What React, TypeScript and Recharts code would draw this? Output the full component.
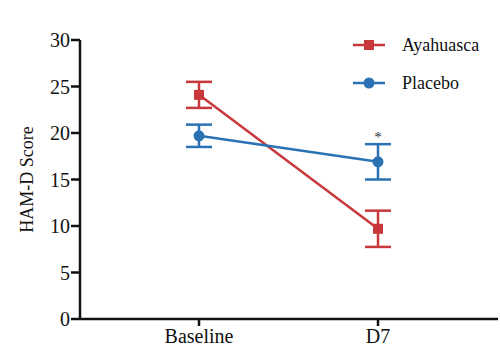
import { ErrorBar, LabelList, Legend, Line, LineChart, XAxis, YAxis } from "recharts";

const timepoints = ["Baseline", "D7"];
const ayahuascaMean = [24.1, 9.7];
const ayahuascaErr = [1.4, 1.95];
const placeboMean = [19.7, 16.9];
const placeboErr = [1.2, 1.9];
const placeboSig = ["", "*"];
const yTicks = [0, 5, 10, 15, 20, 25, 30];

const RED = "#c8383b";
const BLUE = "#2a72b3";
const FONT = "Liberation Serif";

const data = timepoints.map((t, i) => ({
  t,
  aya: ayahuascaMean[i],
  ayaErr: ayahuascaErr[i],
  pla: placeboMean[i],
  plaErr: placeboErr[i],
  sig: placeboSig[i],
}));

function SquareDot(props: any) {
  const { cx, cy } = props;
  if (cx == null || cy == null) return null;
  return <rect x={cx - 5} y={cy - 5} width={10} height={10} fill={RED} />;
}

function CircleDot(props: any) {
  const { cx, cy } = props;
  if (cx == null || cy == null) return null;
  return <circle cx={cx} cy={cy} r={5.5} fill={BLUE} />;
}

function LegendBox() {
  const rows = [
    { name: "Ayahuasca", color: RED, square: true },
    { name: "Placebo", color: BLUE, square: false },
  ];
  return (
    <svg width={148} height={60} style={{ overflow: "visible" }}>
      {rows.map((r, i) => {
        const y = 15 + i * 38;
        return (
          <g key={r.name}>
            <line x1={3} x2={35} y1={y} y2={y} stroke={r.color} strokeWidth={2.5} />
            {r.square ? (
              <rect x={14} y={y - 5} width={10} height={10} fill={r.color} />
            ) : (
              <circle cx={19} cy={y} r={5.5} fill={r.color} />
            )}
            <text x={52} y={y} dy="0.35em" fontFamily={FONT} fontSize={18} fill="#111">
              {r.name}
            </text>
          </g>
        );
      })}
    </svg>
  );
}

export default function App() {
  const tick = { fill: "#111", fontSize: 20, fontFamily: FONT };
  return (
    <div style={{ position: "absolute", left: 0, top: 0, background: "#fff", fontFamily: FONT }}>
      <LineChart
        width={500}
        height={360}
        data={data}
        margin={{ top: 40, right: 2, bottom: 11, left: 0 }}
        style={{ fontFamily: FONT }}
      >
        <XAxis
          dataKey="t"
          height={30}
          padding={{ left: 119, right: 120 }}
          tick={tick}
          tickSize={7}
          tickMargin={3}
          axisLine={{ stroke: "#111", strokeWidth: 2.5 }}
          tickLine={{ stroke: "#111", strokeWidth: 2.5 }}
        />
        <YAxis
          width={80}
          domain={[0, 30]}
          ticks={yTicks}
          interval={0}
          tick={tick}
          tickSize={9}
          tickMargin={1}
          axisLine={{ stroke: "#111", strokeWidth: 2.5 }}
          tickLine={{ stroke: "#111", strokeWidth: 2.5 }}
          label={{
            value: "HAM-D Score",
            angle: -90,
            position: "insideLeft",
            offset: 27,
            fontFamily: FONT,
            fontSize: 18,
            fill: "#111",
            style: { textAnchor: "middle" },
          }}
        />
        <Legend
          verticalAlign="middle"
          align="center"
          content={() => <LegendBox />}
          wrapperStyle={{ position: "absolute", left: 350, top: 30, width: 148, height: 60 }}
        />
        <Line
          dataKey="aya"
          stroke={RED}
          strokeWidth={2.5}
          dot={<SquareDot />}
          activeDot={false}
          isAnimationActive={false}
        >
          <ErrorBar dataKey="ayaErr" width={13} stroke={RED} strokeWidth={2.5} />
        </Line>
        <Line
          dataKey="pla"
          stroke={BLUE}
          strokeWidth={2.5}
          dot={<CircleDot />}
          activeDot={false}
          isAnimationActive={false}
        >
          <ErrorBar dataKey="plaErr" width={13} stroke={BLUE} strokeWidth={2.5} />
          <LabelList dataKey="sig" position="top" offset={20} fill="#333" fontSize={15} fontFamily={FONT} />
        </Line>
      </LineChart>
    </div>
  );
}
